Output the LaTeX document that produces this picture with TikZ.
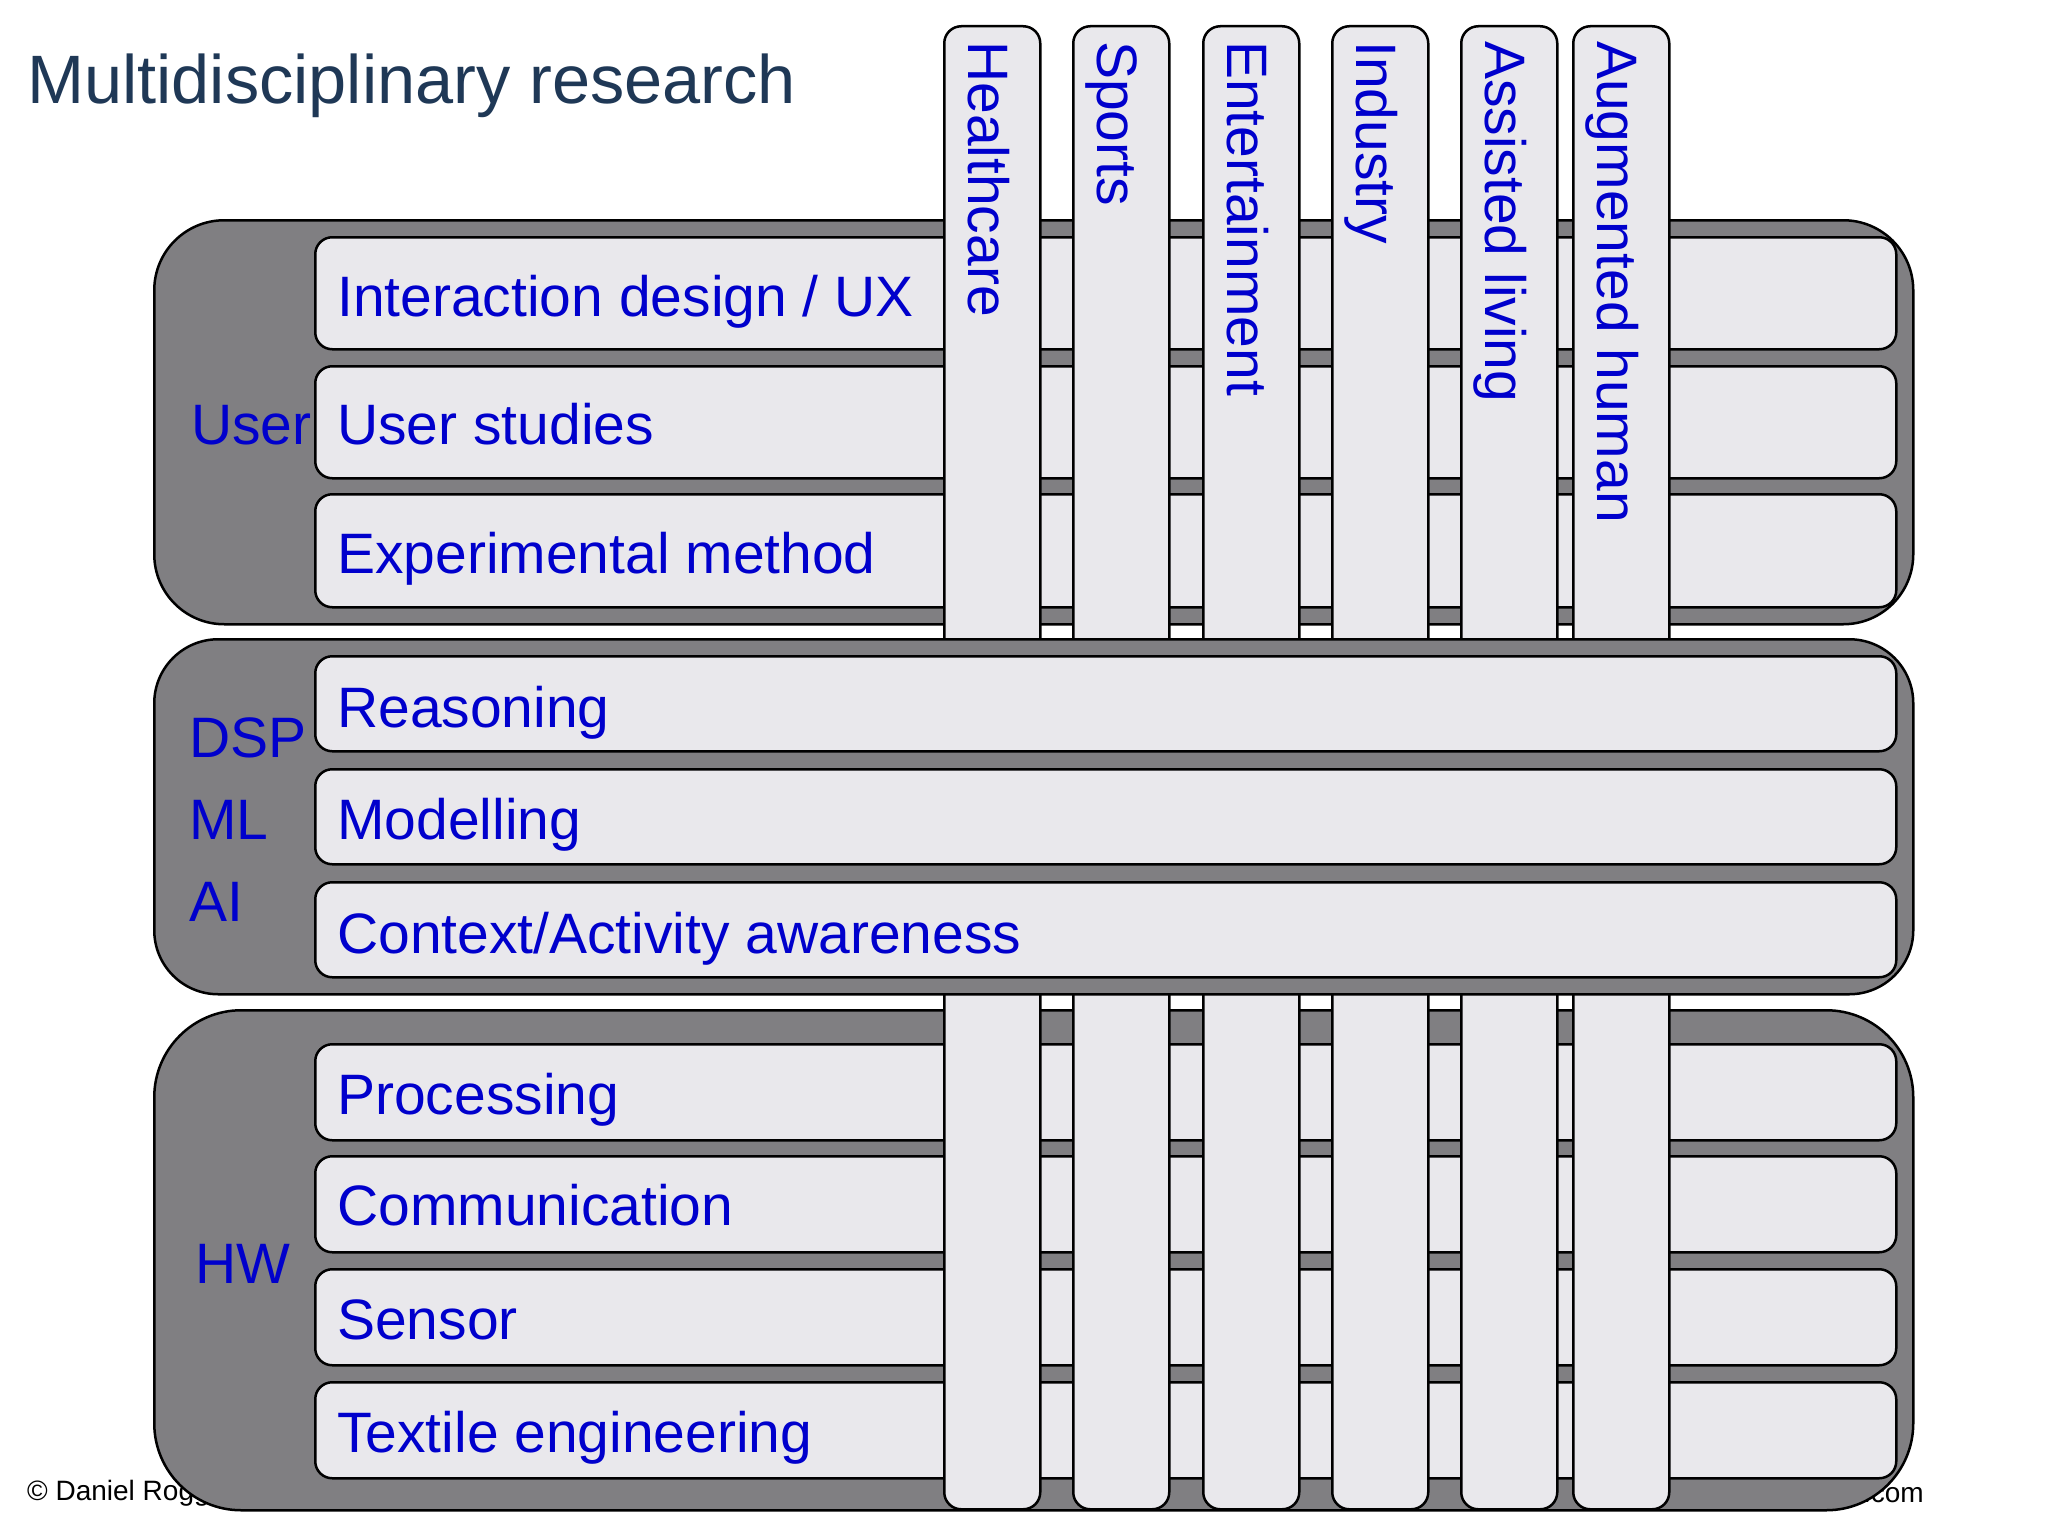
\documentclass[tikz,border=0pt]{standalone}
\usepackage{fontspec}
\setmainfont{Liberation Sans}
\definecolor{grpgray}{RGB}{128,127,130}
\definecolor{rowfill}{RGB}{233,232,236}
\definecolor{txtblue}{RGB}{0,0,204}
\definecolor{titleblue}{RGB}{31,56,86}
\begin{document}
\begin{tikzpicture}[x=1pt,y=-1pt,
  grp/.style={draw=black, line width=2.5pt, fill=grpgray, inner sep=0pt, anchor=north west, minimum width=1759pt},
  rowbox/.style={draw=black, line width=2.5pt, fill=rowfill, rounded corners=17pt, inner sep=0pt, anchor=north west, minimum width=1581pt},
  barbox/.style={draw=black, line width=2.5pt, fill=rowfill, rounded corners=17pt, inner sep=0pt, anchor=north west, minimum width=96pt, minimum height=1483pt},
  lbl/.style={text=txtblue, font=\fontsize{57}{68}\selectfont, inner sep=0pt, anchor=base west},
  vlbl/.style={lbl, rotate=-90},
  small/.style={text=black, font=\fontsize{28}{34}\selectfont, inner sep=0pt}
]
\useasboundingbox (0,0) rectangle (2048,1536);

% footer texts (partly hidden behind the HW group)
\node[small, anchor=base west] (copy) at (27,1500) {© Daniel Roggen};
\node[small, anchor=base east] (web) at (1924,1502) {www.danielroggen.com};

% User group
\node[grp, rounded corners=70pt, minimum height=404pt] (guser) at (153,219) {};
\node[rowbox, minimum height=112pt] (r1) at (314,236) {};
\node[rowbox, minimum height=112pt] (r2) at (314,365) {};
\node[rowbox, minimum height=113pt] (r3) at (314,493) {};
\node[lbl] (t1) at (337,316) {Interaction design / UX};
\node[lbl] (t2) at (337,444) {User studies};
\node[lbl] (t3) at (337,573) {Experimental method};
\node[lbl] (luser) at (191,444) {User};

% HW group
\node[grp, rounded corners=87pt, minimum height=500pt] (ghw) at (153,1009) {};
\node[rowbox, minimum height=96pt] (r7) at (314,1043) {};
\node[rowbox, minimum height=96pt] (r8) at (314,1155) {};
\node[rowbox, minimum height=96pt] (r9) at (314,1268) {};
\node[rowbox, minimum height=96pt] (r10) at (314,1381) {};
\node[lbl] (t7) at (337,1114) {Processing};
\node[lbl] (t8) at (337,1225) {Communication};
\node[lbl] (t9) at (337,1339) {Sensor};
\node[lbl] (t10) at (337,1452) {Textile engineering};
\node[lbl] (lhw) at (195,1283) {HW};

% vertical application bars
\node[barbox] (b1) at (943,25) {};
\node[barbox] (b2) at (1072,25) {};
\node[barbox] (b3) at (1202,25) {};
\node[barbox] (b4) at (1331,25) {};
\node[barbox] (b5) at (1460,25) {};
\node[barbox] (b6) at (1572,25) {};
\node[vlbl] (v1) at (968,41) {Healthcare};
\node[vlbl] (v2) at (1097,41) {Sports};
\node[vlbl] (v3) at (1227,41) {Entertainment};
\node[vlbl] (v4) at (1356,41) {Industry};
\node[vlbl] (v5) at (1485,41) {Assisted living};
\node[vlbl] (v6) at (1597,41) {Augmented human};

% DSP / ML / AI group
\node[grp, rounded corners=64pt, minimum height=355pt] (gdsp) at (153,638) {};
\node[rowbox, minimum height=95pt] (r4) at (314,655) {};
\node[rowbox, minimum height=95pt] (r5) at (314,768) {};
\node[rowbox, minimum height=95pt] (r6) at (314,881) {};
\node[lbl] (t4) at (337,727) {Reasoning};
\node[lbl] (t5) at (337,839) {Modelling};
\node[lbl] (t6) at (337,953) {Context/Activity awareness};
\node[lbl] (ldsp) at (189,757) {DSP};
\node[lbl] (lml) at (189,839) {ML};
\node[lbl] (lai) at (189,921) {AI};

% title
\node[text=titleblue, font=\fontsize{68.5}{80}\selectfont, inner sep=0pt, anchor=base west] (title) at (27,104) {Multidisciplinary research};
\end{tikzpicture}
\end{document}
